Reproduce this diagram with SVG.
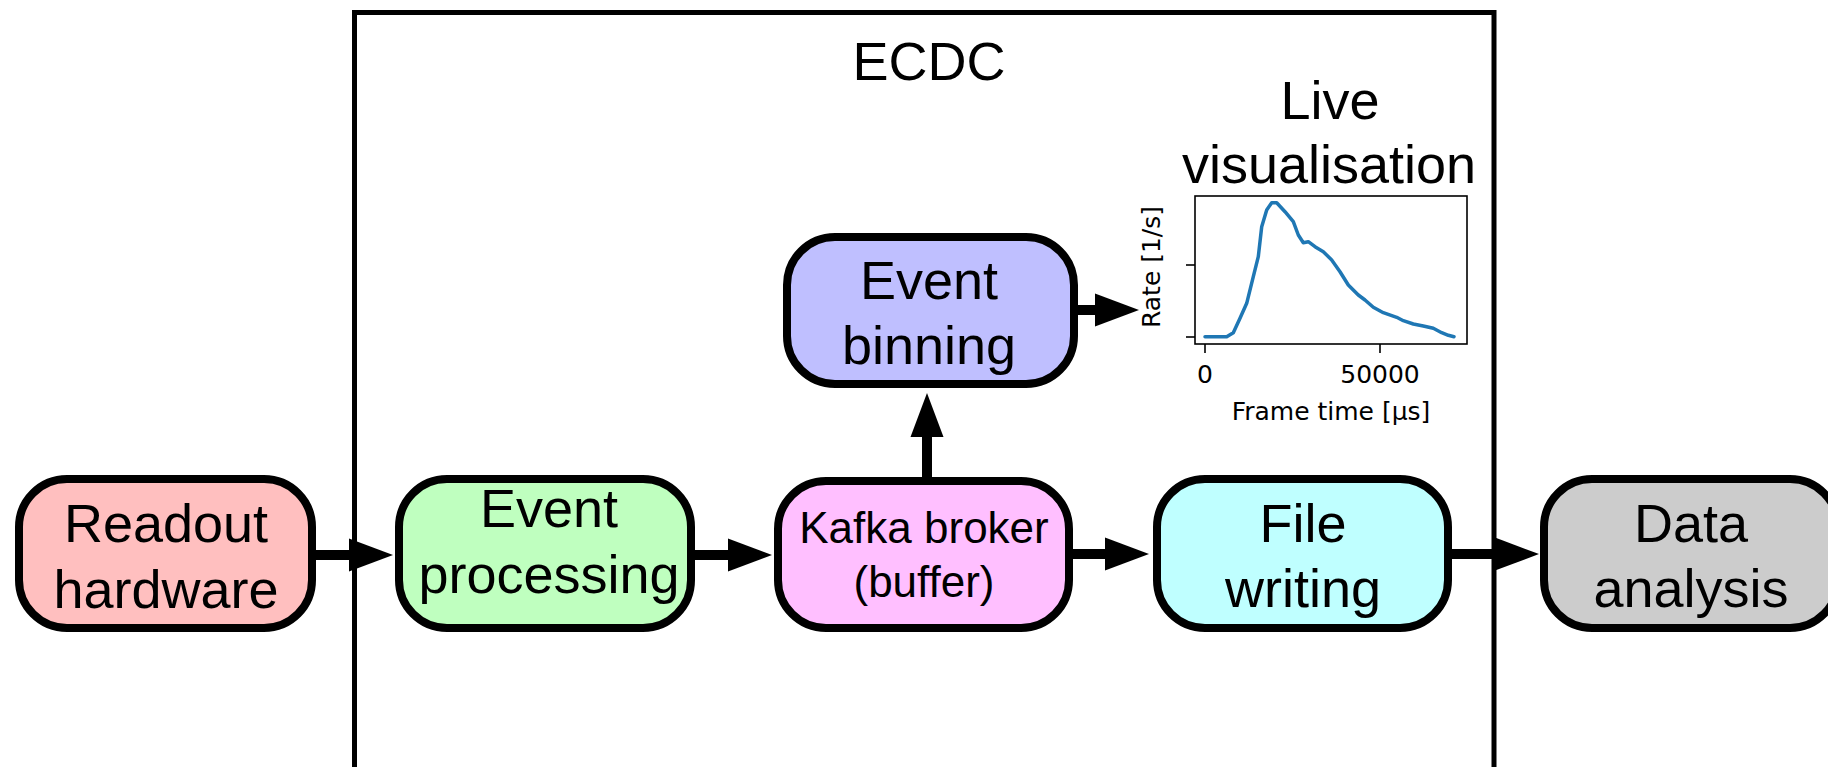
<svg xmlns="http://www.w3.org/2000/svg" width="1828" height="767" viewBox="0 0 1828 767">
<style>
.node rect{stroke:#000;stroke-width:8}
.lbl{font-family:"Liberation Sans",Arial,Helvetica,sans-serif;font-size:54px;text-anchor:middle;fill:#000}
.sm{font-size:44px}
.conn{stroke:#000;stroke-width:10;fill:none}
.plt{font-family:"DejaVu Sans",sans-serif;font-size:25px;fill:#000}
</style>
<defs>
<marker id="ah" markerUnits="userSpaceOnUse" markerWidth="46" markerHeight="34" refX="0" refY="16.5" orient="auto" overflow="visible">
<path d="M0,0 L44,16.5 L0,33 Z" fill="#000"/>
</marker>
</defs>
<rect width="1828" height="767" fill="#fff"/>
<g id="ecdc">
<path d="M354.5,767 V12.5 H1494 V767" fill="none" stroke="#000" stroke-width="5"/>
<text class="lbl" x="929" y="80">ECDC</text>
</g>
<g id="connectors">
<line class="conn" x1="312" y1="555" x2="349" y2="555" marker-end="url(#ah)"/>
<line class="conn" x1="691" y1="555" x2="728" y2="555" marker-end="url(#ah)"/>
<line class="conn" x1="1069" y1="554" x2="1105" y2="554" marker-end="url(#ah)"/>
<line class="conn" x1="1448" y1="554" x2="1495" y2="554" marker-end="url(#ah)"/>
<line class="conn" x1="927" y1="481" x2="927" y2="437" marker-end="url(#ah)"/>
<line class="conn" x1="1074" y1="310" x2="1095" y2="310" marker-end="url(#ah)"/>
</g>
<g id="readout" class="node">
<rect x="19" y="479" width="293" height="149" rx="48" fill="#ffbfbf"/>
<text class="lbl" x="166" y="542">Readout</text>
<text class="lbl" x="166" y="608">hardware</text>
</g>
<g id="event-processing" class="node">
<rect x="399" y="479" width="292" height="149" rx="48" fill="#bfffbf"/>
<text class="lbl" x="549" y="527">Event</text>
<text class="lbl" x="549" y="593">processing</text>
</g>
<g id="kafka" class="node">
<rect x="778" y="481" width="291" height="147" rx="48" fill="#ffbfff"/>
<text class="lbl sm" x="924" y="543">Kafka broker</text>
<text class="lbl sm" x="924" y="597">(buffer)</text>
</g>
<g id="file-writing" class="node">
<rect x="1157" y="479" width="291" height="149" rx="48" fill="#bfffff"/>
<text class="lbl" x="1303" y="542">File</text>
<text class="lbl" x="1303" y="607">writing</text>
</g>
<g id="data-analysis" class="node">
<rect x="1544" y="479" width="294" height="149" rx="48" fill="#cccccc"/>
<text class="lbl" x="1691" y="542">Data</text>
<text class="lbl" x="1691" y="607">analysis</text>
</g>
<g id="event-binning" class="node">
<rect x="787" y="237" width="287" height="147" rx="48" fill="#bfbfff"/>
<text class="lbl" x="929" y="299">Event</text>
<text class="lbl" x="929" y="364">binning</text>
</g>
<g id="live-visualisation">
<text class="lbl" x="1330" y="119">Live</text>
<text class="lbl" x="1329" y="183">visualisation</text>
<rect x="1195" y="196" width="272" height="148" fill="#fff" stroke="#000" stroke-width="1.6"/>
<g stroke="#000" stroke-width="1.6">
<line x1="1186" y1="265" x2="1195" y2="265"/>
<line x1="1186" y1="337" x2="1195" y2="337"/>
<line x1="1205" y1="344" x2="1205" y2="353"/>
<line x1="1380" y1="344" x2="1380" y2="353"/>
</g>
<polyline fill="none" stroke="#1f77b4" stroke-width="3.5" stroke-linejoin="round" stroke-linecap="round" points="1205,336.7 1226.7,336.7 1233.3,332.7 1240,318.3 1246.7,303.3 1253.3,276.7 1258.3,256.7 1261.7,226.7 1266.7,210 1271.7,202.7 1276.7,202.7 1285,211.7 1293.3,221.7 1298.3,235 1303.3,242.7 1308.3,241.7 1315,246.7 1323.3,251.7 1331.7,260 1340,271.7 1348.3,285 1358.3,295 1365,300 1373.3,307.3 1383.3,312.7 1396.7,317.3 1403.3,320.7 1413.3,324 1423.3,326 1433.3,328.3 1441.7,332.7 1448.3,335.3 1454,336.7"/>
<text class="plt" x="1205" y="383" text-anchor="middle">0</text>
<text class="plt" x="1380" y="383" text-anchor="middle">50000</text>
<text class="plt" x="1331" y="420" text-anchor="middle">Frame time [µs]</text>
<text class="plt" transform="translate(1160,267) rotate(-90)" text-anchor="middle">Rate [1/s]</text>
</g>
</svg>
